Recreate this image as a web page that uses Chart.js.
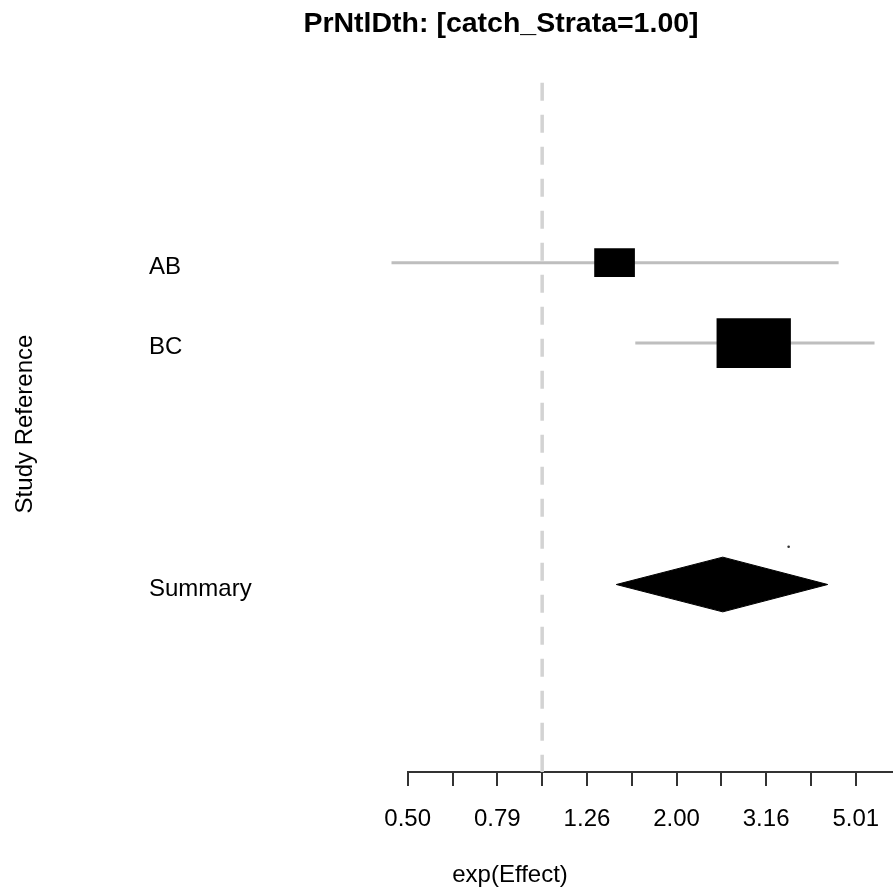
<!DOCTYPE html>
<html>
<head>
<meta charset="utf-8">
<title>PrNtlDth forest plot</title>
<script src="https://cdn.jsdelivr.net/npm/chart.js@4.4.1/dist/chart.umd.min.js"></script>
<style>
  html, body { margin: 0; padding: 0; background: #fff; }
  canvas { display: block; }
</style>
</head>
<body>
<canvas id="forestChart" width="893" height="890"></canvas>
<script>
// Forest plot: PrNtlDth, catch_Strata = 1.00

const mainTitle = 'PrNtlDth: [catch_Strata=1.00]';
const xTitle = 'exp(Effect)';
const yTitle = 'Study Reference';

// studies
const studies = ['AB', 'BC'];
const studyRows = [1, 2];
const effect = [1.45, 2.965];
const lower = [0.461, 1.614];
const upper = [4.59, 5.52];
const boxLow = [1.309, 2.455];
const boxHigh = [1.608, 3.585];

// pooled estimate
const summaryLabel = 'Summary';
const summaryRow = 5;
const summaryEffect = 2.53;
const summaryLower = 1.464;
const summaryUpper = 4.34;

// small stray mark above the diamond
const strayMark = [{ x: 3.55, y: 4.53 }];

// axis ticks
const tickValues = [0.501, 0.631, 0.794, 1.000, 1.259, 1.585, 1.995, 2.512, 3.162, 3.981, 5.012];
const tickLabels = ['0.50', '', '0.79', '', '1.26', '', '2.00', '', '3.16', '', '5.01'];
const rowValues = [1, 2, 5];
const rowLabels = ['AB', 'BC', 'Summary'];

const nullValue = 1;

// layout / style
const FONT = '"Liberation Sans", Arial, Helvetica, sans-serif';
const xMax = 6.07;
const yMin = -1.236;
const yMax = 7.33;
const boxHeights = [28, 49];
const diamondHalf = 0.34;

const textPlugin = {
    id: 'plotText',
    afterDraw(chart) {
        const ctx = chart.ctx;
        ctx.save();
        ctx.fillStyle = '#000';
        ctx.textAlign = 'center';
        ctx.textBaseline = 'alphabetic';
        ctx.font = 'bold 28.5px ' + FONT;
        ctx.fillText(mainTitle, 501, 31.5);
        ctx.font = '24px ' + FONT;
        ctx.fillText(xTitle, 510, 882);
        ctx.translate(32, 424);
        ctx.rotate(-Math.PI / 2);
        ctx.fillText(yTitle, 0, 0);
        ctx.restore();
    }
};

const datasets = [];

// reference line at 1
datasets.push({
    type: 'line',
    data: [{ x: nullValue, y: yMin }, { x: nullValue, y: yMax }],
    borderColor: '#d3d3d3',
    borderWidth: 3.5,
    borderDash: [18, 14],
    pointRadius: 0,
    clip: false,
    order: 5
});

// confidence intervals
studies.forEach((s, i) => {
    datasets.push({
        type: 'line',
        label: s + ' CI',
        data: [{ x: lower[i], y: studyRows[i] }, { x: upper[i], y: studyRows[i] }],
        borderColor: '#bebebe',
        borderWidth: 3,
        pointRadius: 0,
        clip: false,
        order: 4
    });
});

// study boxes
studies.forEach((s, i) => {
    datasets.push({
        type: 'bar',
        label: s,
        indexAxis: 'y',
        data: [{ y: studyRows[i], x: [boxLow[i], boxHigh[i]] }],
        backgroundColor: '#000',
        borderWidth: 0,
        barThickness: boxHeights[i],
        grouped: false,
        order: 1
    });
});

// summary diamond, drawn as two halves filled between
datasets.push({
    type: 'line',
    label: summaryLabel + ' top',
    data: [
        { x: summaryLower, y: summaryRow },
        { x: summaryEffect, y: summaryRow - diamondHalf },
        { x: summaryUpper, y: summaryRow }
    ],
    borderColor: '#000',
    borderWidth: 1,
    pointRadius: 0,
    fill: false,
    order: 2
});
datasets.push({
    type: 'line',
    label: summaryLabel + ' bottom',
    data: [
        { x: summaryLower, y: summaryRow },
        { x: summaryEffect, y: summaryRow + diamondHalf },
        { x: summaryUpper, y: summaryRow }
    ],
    borderColor: '#000',
    backgroundColor: '#000',
    borderWidth: 1,
    pointRadius: 0,
    fill: '-1',
    order: 2
});

datasets.push({
    type: 'scatter',
    data: strayMark,
    backgroundColor: '#333',
    borderWidth: 0,
    pointRadius: 1.3,
    order: 0
});

const forestChart = new Chart(document.getElementById('forestChart'), {
    type: 'scatter',
    data: { datasets: datasets },
    plugins: [textPlugin],
    options: {
        responsive: false,
        animation: false,
        devicePixelRatio: 1,
        layout: { autoPadding: false, padding: { left: 149, top: 82.7, right: 0, bottom: 0 } },
        plugins: {
            legend: { display: false },
            tooltip: { enabled: false },
            title: { display: false }
        },
        scales: {
            x: {
                type: 'logarithmic',
                min: tickValues[0],
                max: xMax,
                offset: false,
                afterBuildTicks: (scale) => {
                    scale.ticks = tickValues.map(v => ({ value: v }));
                },
                afterFit: (scale) => {
                    scale.height = 118;
                    scale.paddingLeft = 0;
                    scale.paddingRight = 0;
                },
                ticks: {
                    autoSkip: false,
                    maxRotation: 0,
                    padding: 19,
                    color: '#000',
                    font: { family: FONT, size: 24 },
                    callback: (value, index) => tickLabels[index]
                },
                grid: {
                    drawOnChartArea: false,
                    offset: false,
                    tickLength: 14,
                    color: '#333',
                    lineWidth: 2
                },
                border: { color: '#333', width: 2 }
            },
            y: {
                type: 'linear',
                reverse: true,
                min: yMin,
                max: yMax,
                offset: false,
                afterBuildTicks: (scale) => {
                    scale.ticks = rowValues.map(v => ({ value: v }));
                },
                afterFit: (scale) => {
                    scale.width = 407.7 - 149;
                    scale.paddingTop = 0;
                    scale.paddingBottom = 0;
                },
                ticks: {
                    autoSkip: false,
                    crossAlign: 'far',
                    padding: 156,
                    labelOffset: 4.5,
                    color: '#000',
                    font: { family: FONT, size: 24 },
                    callback: (value, index) => rowLabels[index]
                },
                grid: { display: false, drawTicks: false, offset: false },
                border: { display: false }
            }
        }
    }
});
</script>
</body>
</html>
